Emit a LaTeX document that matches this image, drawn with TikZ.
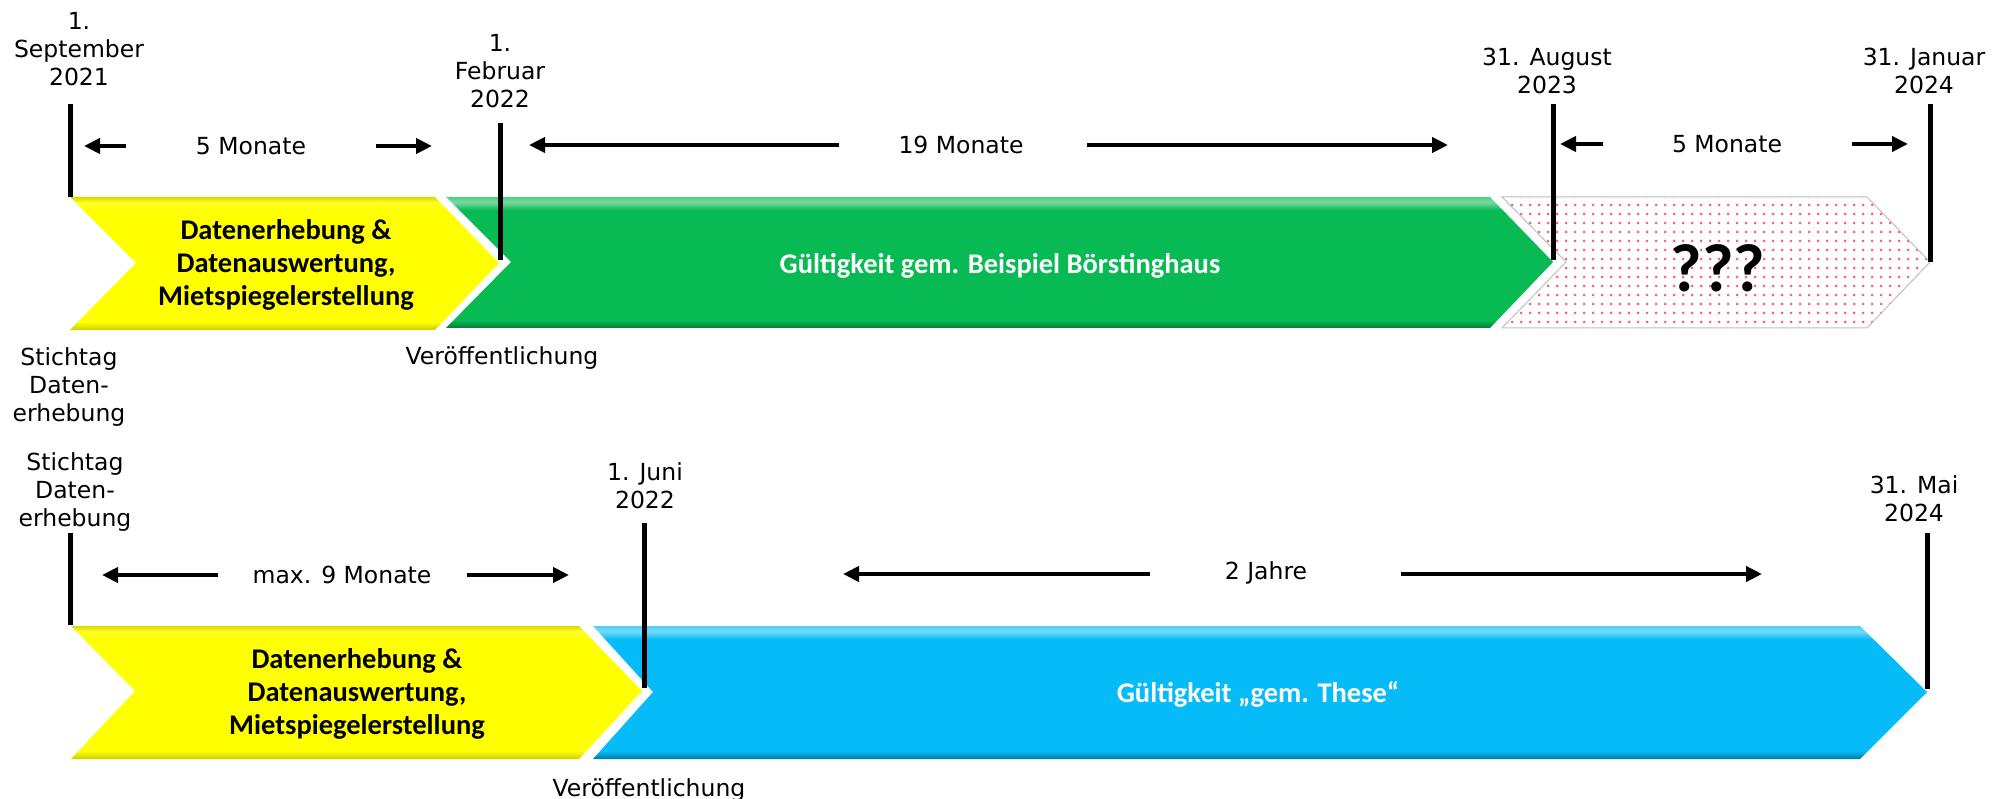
\documentclass[tikz,border=0pt]{standalone}
\usepackage{fontspec}
\setmainfont{DejaVu Sans}
\newfontfamily\phasefont{Carlito}
\usepackage{tikz}
\usetikzlibrary{arrows.meta,positioning,patterns.meta}
\definecolor{gelb}{RGB}{255,255,0}
\definecolor{gruen}{RGB}{8,186,84}
\definecolor{blau}{RGB}{5,187,248}
\definecolor{punkt}{RGB}{236,60,90}
% bevel look: dark lower edge, light upper edge
\pgfdeclareverticalshading{bevel gelb}{100bp}{color(0bp)=(gelb!80!black); color(25bp)=(gelb!80!black);
  color(28bp)=(gelb); color(70bp)=(gelb); color(73bp)=(gelb!85!white); color(75bp)=(gelb!85!black); color(100bp)=(gelb!85!black)}
\pgfdeclareverticalshading{bevel gruen}{100bp}{color(0bp)=(gruen!65!black); color(25bp)=(gruen!65!black);
  color(28bp)=(gruen); color(70bp)=(gruen); color(73bp)=(gruen!55!white); color(75bp)=(gruen!70!white); color(100bp)=(gruen!70!white)}
\pgfdeclareverticalshading{bevel blau}{100bp}{color(0bp)=(blau!65!black); color(25bp)=(blau!65!black);
  color(28bp)=(blau); color(70bp)=(blau); color(73bp)=(blau!55!white); color(75bp)=(blau!70!white); color(100bp)=(blau!70!white)}
\tikzset{
  date/.style     = {align=center, inner sep=0pt, font=\fontsize{23.5}{28}\selectfont},
  span/.style     = {inner sep=0pt, font=\fontsize{23.5}{28}\selectfont},
  phase/.style    = {align=center, inner sep=0pt, font=\phasefont\bfseries\fontsize{28.5}{33}\selectfont},
  markline/.style = {line width=5pt},
  dimarrow/.style = {-{Triangle[length=16pt,width=15pt]}, line width=4.5pt},
  chevron/.style  = {shading=bevel #1},
}

\begin{document}
\begin{tikzpicture}[x=1pt,y=-1pt]
      \useasboundingbox (0,0) rectangle (1993,799);
      %first timeline
      \path[chevron=gelb]  (70,197) -- (435,197) -- (499,263) -- (435,330) -- (70,330) -- (136,263) -- cycle;
      \path[chevron=gruen] (446,197) -- (1490,197) -- (1553,262) -- (1490,328) -- (446,328) -- (511,262) -- cycle;
      \draw[draw=black!25, line width=1pt, pattern={Dots[distance=9pt,radius=1.5pt]}, pattern color=punkt!80]
           (1502,197) -- (1867,197) -- (1930,262) -- (1867,328) -- (1502,328) -- (1566,262) -- cycle;

      \node[phase] (erhebung1) at (286,265) {Datenerhebung \&\\ Datenauswertung,\\ Mietspiegelerstellung};
      \node[phase, text=white] (borst) at (1000,266) {Gültigkeit gem. Beispiel Börstinghaus};
      \node[phase, font=\phasefont\bfseries\fontsize{68}{68}\selectfont] (fragen) at (1718,268) {???};

      \node[date] (sep21) at (79,49) {1.\\ September\\ 2021};
      \node[date] (feb22) at (500,71) {1.\\ Februar\\ 2022};
      \node[date] (aug23) at (1547,71) {31. August\\ 2023};
      \node[date] (jan24) at (1924,71) {31. Januar\\ 2024};
      \node[date] (stich1) at (69,387) {Stichtag\\ Daten-\\ erhebung};
      \node[date] (veroe1) at (502,358) {Veröffentlichung};

      \coordinate (sep21a) at (70,104);  \coordinate (sep21b) at (70,197);
      \coordinate (feb22a) at (500,123); \coordinate (feb22b) at (500,260);
      \coordinate (aug23a) at (1553,104); \coordinate (aug23b) at (1553,260);
      \coordinate (jan24a) at (1930,104); \coordinate (jan24b) at (1930,262);
      \draw[markline] (sep21a) -- (sep21b);
      \draw[markline] (feb22a) -- (feb22b);
      \draw[markline] (aug23a) -- (aug23b);
      \draw[markline] (jan24a) -- (jan24b);

      \node[span] (m5a) at (251,146) {5 Monate};
      \node[span] (m19) at (961,145) {19 Monate};
      \node[span] (m5b) at (1727,144) {5 Monate};
      \coordinate (m5a l) at (126,146);  \coordinate (m5a ll) at (84,146);
      \coordinate (m5a r) at (376,146);  \coordinate (m5a rr) at (432,146);
      \coordinate (m19 l) at (839,145);  \coordinate (m19 ll) at (529,145);
      \coordinate (m19 r) at (1087,145); \coordinate (m19 rr) at (1448,145);
      \coordinate (m5b l) at (1603,144); \coordinate (m5b ll) at (1560,144);
      \coordinate (m5b r) at (1852,144); \coordinate (m5b rr) at (1908,144);
      \foreach \s in {m5a,m19,m5b}{
        \draw[dimarrow] (\s\space l) -- (\s\space ll);
        \draw[dimarrow] (\s\space r) -- (\s\space rr);
      }

      %second timeline
      \path[chevron=gelb] (71,626) -- (579,626) -- (642,691) -- (579,759) -- (71,759) -- (135,691) -- cycle;
      \path[chevron=blau] (593,626) -- (1860,626) -- (1927,692) -- (1860,759) -- (593,759) -- (653,692) -- cycle;

      \node[phase] (erhebung2) at (357,694) {Datenerhebung \&\\ Datenauswertung,\\ Mietspiegelerstellung};
      \node[phase, text=white] (these) at (1258,694) {Gültigkeit „gem. These“};

      \node[date] (stich2) at (75,492) {Stichtag\\ Daten-\\ erhebung};
      \node[date] (jun22) at (645,486) {1. Juni\\ 2022};
      \node[date] (mai24) at (1914,499) {31. Mai\\ 2024};
      \node[date] (veroe2) at (649,790) {Veröffentlichung};

      \coordinate (stich2a) at (70,533); \coordinate (stich2b) at (70,625);
      \coordinate (jun22a) at (644,523); \coordinate (jun22b) at (644,688);
      \coordinate (mai24a) at (1927,533); \coordinate (mai24b) at (1927,689);
      \draw[markline] (stich2a) -- (stich2b);
      \draw[markline] (jun22a) -- (jun22b);
      \draw[markline] (mai24a) -- (mai24b);

      \node[span] (m9) at (342,575) {max. 9 Monate};
      \node[span] (j2) at (1266,573) {2 Jahre};
      \coordinate (m9 l) at (218,575);  \coordinate (m9 ll) at (102,575);
      \coordinate (m9 r) at (467,575);  \coordinate (m9 rr) at (569,575);
      \coordinate (j2 l) at (1150,574); \coordinate (j2 ll) at (843,574);
      \coordinate (j2 r) at (1401,574); \coordinate (j2 rr) at (1762,574);
      \foreach \s in {m9,j2}{
        \draw[dimarrow] (\s\space l) -- (\s\space ll);
        \draw[dimarrow] (\s\space r) -- (\s\space rr);
      }
\end{tikzpicture}
\end{document}
